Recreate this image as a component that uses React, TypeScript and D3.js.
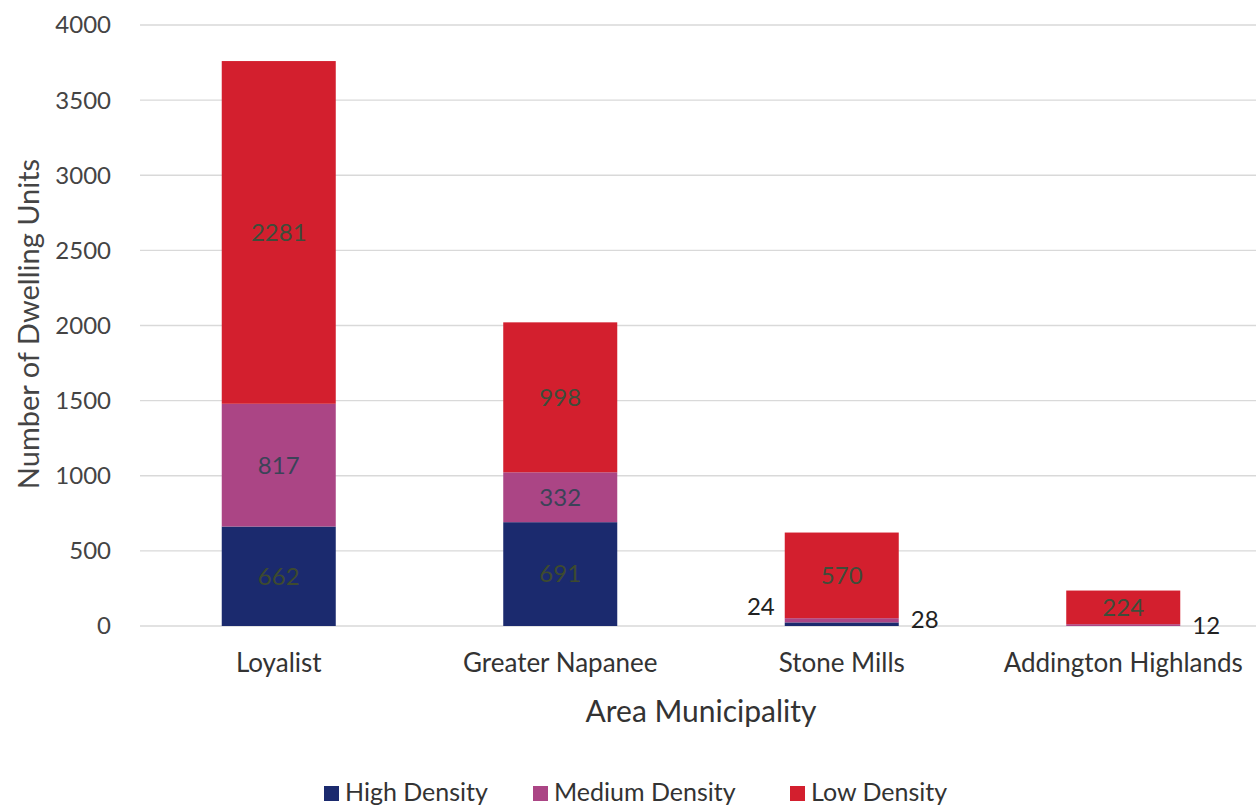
import React from "react";
import * as d3 from "d3";

const categories = ["Loyalist", "Greater Napanee", "Stone Mills", "Addington Highlands"];
const highDensity = [662, 691, 24, 0];
const mediumDensity = [817, 332, 28, 12];
const lowDensity = [2281, 998, 570, 224];
const yTicks = [0, 500, 1000, 1500, 2000, 2500, 3000, 3500, 4000];
const seriesNames = ["High Density", "Medium Density", "Low Density"];
const seriesColors = ["#1b2a6e", "#ab4585", "#d31f2e"];

const W = 1256;
const H = 808;
const FONT = "Lato, 'Open Sans', sans-serif";

export default function App() {
  const x = d3.scaleBand<string>().domain(categories).range([138, 1264]).padding(0);
  const y = d3.scaleLinear().domain([0, 4000]).range([626, 25]);
  const barW = x.bandwidth() * 0.405;

  const rows = categories.map((c, i) => ({
    cat: c,
    high: highDensity[i],
    medium: mediumDensity[i],
    low: lowDensity[i],
  }));
  const stack = d3.stack<any>().keys(["high", "medium", "low"])(rows);

  return (
    <svg width={W} height={H} style={{ position: "absolute", left: 0, top: 0, background: "#fff" }}>
      {yTicks.map((t) => (
        <g key={t}>
          <line x1={140} x2={W} y1={y(t)} y2={y(t)} stroke="#d9d9d9" strokeWidth={1.3} />
          <text x={111} y={y(t)} dy="0.35em" textAnchor="end" fontFamily={FONT} fontSize={24} fill="#444">
            {t}
          </text>
        </g>
      ))}
      <text
        transform={`translate(29,${324}) rotate(-90)`}
        textAnchor="middle"
        dy="0.35em"
        fontFamily={FONT}
        fontSize={29}
        fill="#444"
      >
        Number of Dwelling Units
      </text>

      {stack.map((layer, si) =>
        layer.map((d, i) => {
          const cx = (x(categories[i]) as number) + x.bandwidth() / 2;
          const h = y(d[0]) - y(d[1]);
          return (
            <rect
              key={`${si}-${i}`}
              x={cx - barW / 2}
              y={y(d[1])}
              width={barW}
              height={Math.max(0, h)}
              fill={seriesColors[si]}
            />
          );
        })
      )}

      {stack.map((layer, si) =>
        layer.map((d, i) => {
          const v = d[1] - d[0];
          if (v <= 0) return null;
          const cx = (x(categories[i]) as number) + x.bandwidth() / 2;
          const mid = y((d[0] + d[1]) / 2);
          const big = v >= 200;
          if (big) {
            const fill = si === 0 ? "#3e4a2e" : si === 1 ? "#3b4358" : "#3e4d3a";
            return (
              <text key={`l${si}-${i}`} x={cx} y={mid} dy="0.35em" textAnchor="middle" fontFamily={FONT} fontSize={24} fill={fill}>
                {v}
              </text>
            );
          }
          // small segments: labels sit beside the bar
          const left = si === 0;
          return (
            <text
              key={`l${si}-${i}`}
              x={left ? cx - barW / 2 - 10 : cx + barW / 2 + 12}
              y={left ? y(d[1]) - 16 : y(d[1]) + 1}
              dy="0.35em"
              textAnchor={left ? "end" : "start"}
              fontFamily={FONT}
              fontSize={24}
              fill="#222"
            >
              {v}
            </text>
          );
        })
      )}

      {categories.map((c) => (
        <text
          key={c}
          x={(x(c) as number) + x.bandwidth() / 2}
          y={663}
          dy="0.35em"
          textAnchor="middle"
          fontFamily={FONT}
          fontSize={26}
          fill="#333"
        >
          {c}
        </text>
      ))}
      <text x={701} y={711} dy="0.35em" textAnchor="middle" fontFamily={FONT} fontSize={30} fill="#333">
        Area Municipality
      </text>

      {seriesNames.map((n, i) => {
        const lx = [324, 533, 790][i];
        return (
          <g key={n}>
            <rect x={lx} y={786} width={15} height={15} fill={seriesColors[i]} />
            <text x={lx + 21} y={792} dy="0.35em" fontFamily={FONT} fontSize={25} fill="#333">
              {n}
            </text>
          </g>
        );
      })}
    </svg>
  );
}
